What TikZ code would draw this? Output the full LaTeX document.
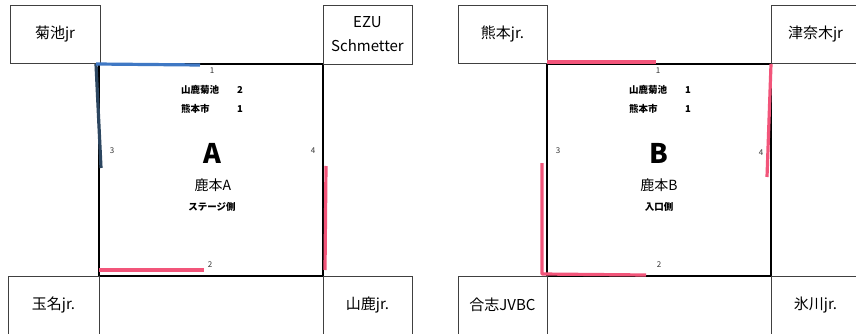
\documentclass[tikz,border=0pt]{standalone}
\usepackage{fontspec}
\setmainfont{Noto Sans CJK JP}
\begin{document}
\begin{tikzpicture}[x=1pt,y=-1pt,
  team/.style={draw=black!75, line width=0.8pt, fill=white, inner sep=0pt, font=\fontsize{15}{24}\selectfont, align=center},
  court/.style={draw=black, line width=1.3pt},
  pinkline/.style={draw=pinkc, line width=3.2pt},
  blueline/.style={draw=bluec, line width=3.2pt},
  slateline/.style={draw=slatec, line width=3.2pt},
  num/.style={font=\fontsize{8}{9}\selectfont, text=black!80, inner sep=1pt},
  small/.style={font=\bfseries\fontsize{9.5}{11}\selectfont, inner sep=1pt},
  big/.style={font=\bfseries\fontsize{27}{29}\selectfont, inner sep=0pt},
  mid/.style={font=\fontsize{14}{16}\selectfont, inner sep=1pt}]
\definecolor{pinkc}{HTML}{F2557A}
\definecolor{bluec}{HTML}{3F78C4}
\definecolor{slatec}{HTML}{2C4660}
\useasboundingbox[fill=white] (0,0) rectangle (856,334);

% ---------- Panel A ----------
\coordinate (A1) at (99,64);
\coordinate (A2) at (323,64);
\coordinate (A3) at (323,276);
\coordinate (A4) at (99,276);
\draw[court] (A1) -- (A2) -- (A3) -- (A4) -- cycle;

\node[team, minimum width=90, minimum height=58] (kikuchi) at (55,34) {菊池jr};
\node[team, minimum width=89, minimum height=59] (ezu) at (367.5,34.5) {EZU\\Schmetter};
\node[team, minimum width=91, minimum height=58] (tamana) at (53.5,305) {玉名jr.};
\node[team, minimum width=89, minimum height=58] (yamaga) at (367.5,305) {山鹿jr.};

\coordinate (a1e) at (200,65);
\coordinate (a3s) at (96,64);
\coordinate (a3e) at (101,168);
\coordinate (a2s) at (99,270);
\coordinate (a2e) at (204,270);
\coordinate (a4s) at (326,166);
\coordinate (a4e) at (325,270);
\draw[slateline] (a3s) -- (a3e);
\draw[blueline] (a3s) -- (a1e);
\draw[pinkline] (a2s) -- (a2e);
\draw[pinkline] (a4s) -- (a4e);

\node[num] (an1) at (212,71) {1};
\node[num] (an3) at (112,151) {3};
\node[num] (an4) at (313,151) {4};
\node[num] (an2) at (210,265) {2};

\node[small, anchor=west] (ay1) at (180,90) {山鹿菊池};
\node[small] (ay2) at (240,90) {2};
\node[small, anchor=west] (ak1) at (180,109) {熊本市};
\node[small] (ak2) at (240,109) {1};
\node[big] (abig) at (212,153) {A};
\node[mid] (aname) at (213,185) {鹿本A};
\node[small] (aside) at (212,207) {ステージ側};

% ---------- Panel B ----------
\coordinate (B1) at (547,64);
\coordinate (B2) at (771,64);
\coordinate (B3) at (771,276);
\coordinate (B4) at (547,276);
\draw[court] (B1) -- (B2) -- (B3) -- (B4) -- cycle;

\node[team, minimum width=89, minimum height=58] (kumamoto) at (502.5,34) {熊本jr.};
\node[team, minimum width=89, minimum height=58] (tsunagi) at (815.5,34) {津奈木jr};
\node[team, minimum width=89, minimum height=58] (koshi) at (502.5,305) {合志JVBC};
\node[team, minimum width=89, minimum height=58] (hikawa) at (815.5,305) {氷川jr.};

\coordinate (b1s) at (547,62);
\coordinate (b1e) at (656,62);
\coordinate (b4s) at (771,64);
\coordinate (b4e) at (767,177);
\coordinate (b3s) at (542,163);
\coordinate (b3c) at (542,274);
\coordinate (b2e) at (646,275);
\draw[pinkline] (b1s) -- (b1e);
\draw[pinkline] (b4s) -- (b4e);
\draw[pinkline, line join=round] (b3s) -- (b3c) -- (b2e);

\node[num] (bn1) at (658,71) {1};
\node[num] (bn3) at (558,151) {3};
\node[num] (bn4) at (761,153) {4};
\node[num] (bn2) at (659,265) {2};

\node[small, anchor=west] (by1) at (628,90) {山鹿菊池};
\node[small] (by2) at (688,90) {1};
\node[small, anchor=west] (bk1) at (628,109) {熊本市};
\node[small] (bk2) at (688,109) {1};
\node[big] (bbig) at (659,153) {B};
\node[mid] (bname) at (659,185) {鹿本B};
\node[small] (bside) at (659,207) {入口側};
\end{tikzpicture}
\end{document}
